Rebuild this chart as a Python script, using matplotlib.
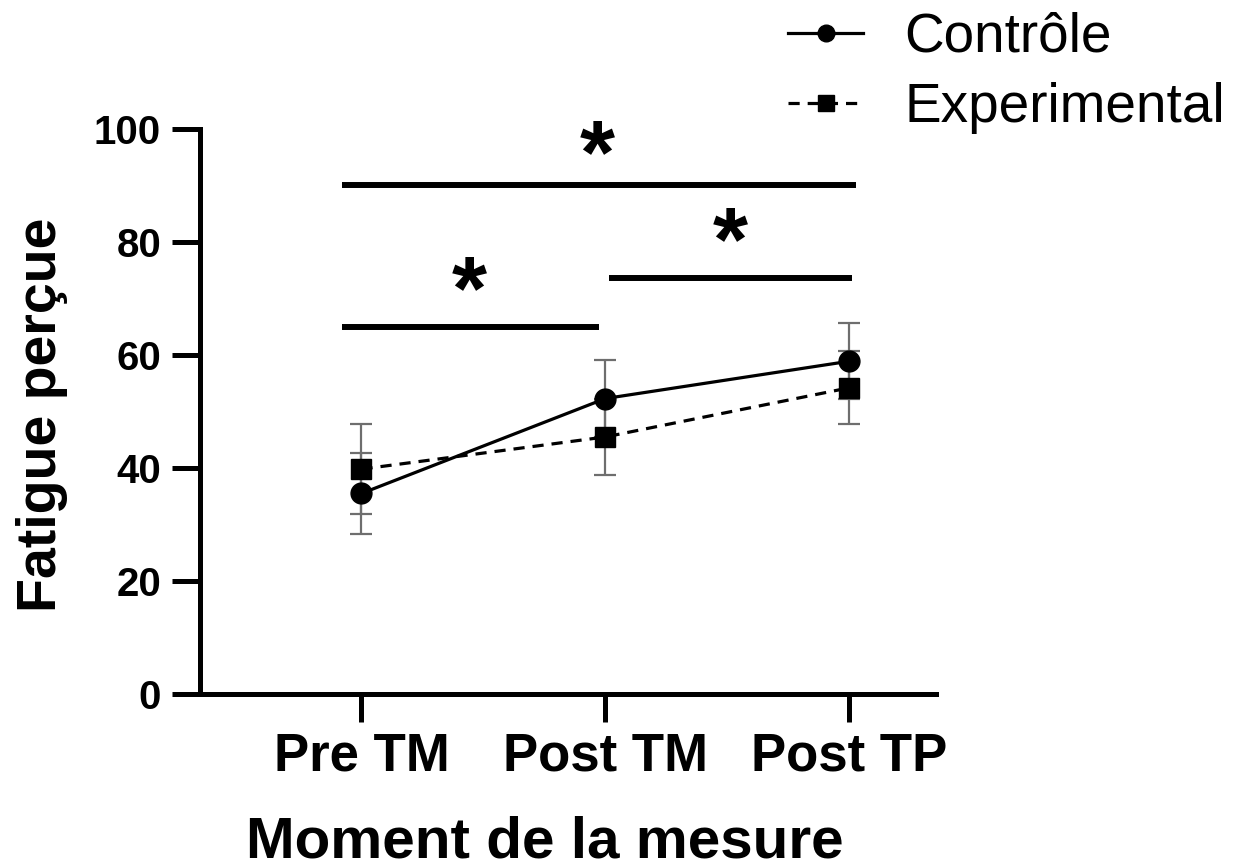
import numpy as np
import matplotlib.pyplot as plt

moments = ['Pre TM', 'Post TM', 'Post TP']
controle_moy = [35.5, 52.3, 58.9]
controle_et = [7.1, 6.8, 6.7]
exp_moy = [39.8, 45.5, 54.2]
exp_et = [8.0, 6.7, 6.5]

# barres de significativite (debut, fin, hauteur) et etoiles
sig_x0 = [-0.08, -0.08, 1.016]
sig_x1 = [2.027, 0.975, 2.01]
sig_y = [90.0, 64.9, 73.7]
etoile_x = [0.965, 0.44, 1.51]
etoile_y = [94.6, 70.6, 79.1]

plt.rcParams['font.family'] = ['Liberation Sans', 'DejaVu Sans']

W, H = 1233, 868
fig = plt.figure(figsize=(W / 100, H / 100), dpi=100)
ax = fig.add_axes([200 / W, 1 - 694 / H, 736 / W, 565 / H])
x = np.arange(len(moments))

gris = '#6e6e6e'
ax.errorbar(x, controle_moy, yerr=controle_et, fmt='none', ecolor=gris,
            elinewidth=1.6, capsize=7.9, capthick=1.6, zorder=2)
ax.errorbar(x, exp_moy, yerr=exp_et, fmt='none', ecolor=gris,
            elinewidth=1.6, capsize=7.9, capthick=1.6, zorder=2)
ax.plot(x, controle_moy, '-o', color='black', lw=2.3, ms=15, label='Contrôle', zorder=3)
ax.plot(x, exp_moy, marker='s', ls=(0, (3.5, 2.5)), color='black', lw=2.3, ms=15,
        label='Experimental', zorder=3)

for a, b, h in zip(sig_x0, sig_x1, sig_y):
    ax.plot([a, b], [h, h], color='black', lw=4.3, solid_capstyle='butt', clip_on=False)
for ex, ey in zip(etoile_x, etoile_y):
    ax.text(ex, ey, '*', fontsize=65, fontweight='bold', ha='center', va='center')

ax.set_xlim(-0.662, 2.355)
ax.set_ylim(0, 100)
ax.set_yticks(np.arange(0, 101, 20))
ax.set_xticks(x)
ax.set_xticklabels(moments)
for s in ['top', 'right']:
    ax.spines[s].set_visible(False)
for s in ['left', 'bottom']:
    ax.spines[s].set_linewidth(3.6)
ax.tick_params(axis='both', length=20, width=3.6)
ax.tick_params(axis='x', labelsize=38, pad=7)
ax.tick_params(axis='y', labelsize=29, pad=8)
for lab in ax.get_xticklabels() + ax.get_yticklabels():
    lab.set_fontweight('bold')

fig.text(545 / W, 1 - 857 / H, 'Moment de la mesure', fontsize=42, fontweight='bold',
         ha='center', va='baseline')
fig.text(42 / W, 1 - 415 / H, 'Fatigue perçue', fontsize=40, fontweight='bold',
         rotation=90, ha='center', va='center')

fig.legend(loc='upper left', bbox_to_anchor=(788 / W, 1 - 12 / H), frameon=False,
           fontsize=39.5, borderpad=0, borderaxespad=0, handlelength=1.37,
           handletextpad=0.75, labelspacing=0.33, markerscale=0.8)

fig.savefig('out.png', dpi=100)
